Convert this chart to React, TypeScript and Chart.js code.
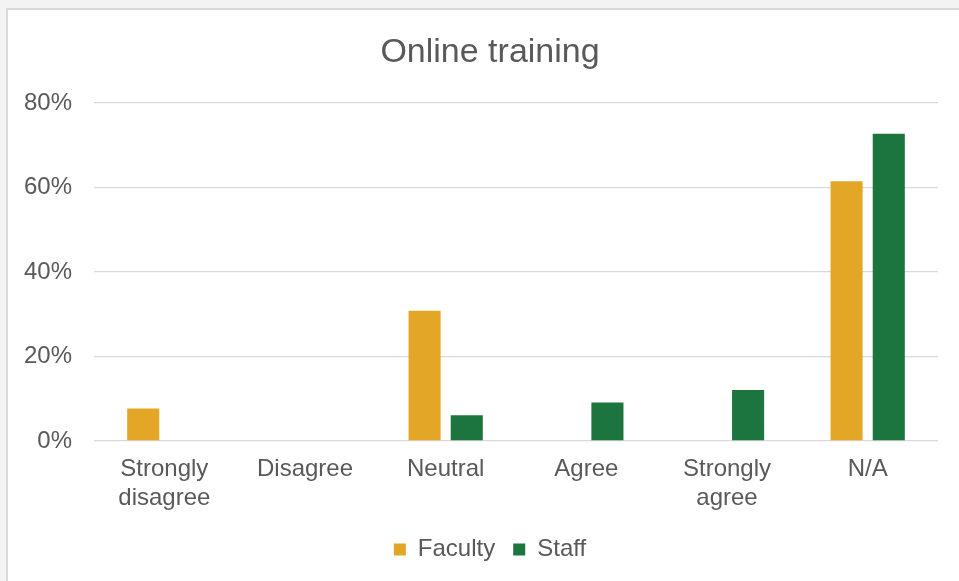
import React, { useEffect, useRef } from "react";
import { Chart, registerables } from "chart.js";

Chart.register(...registerables);

const categories: (string | string[])[] = [
  ["Strongly", "disagree"],
  "Disagree",
  "Neutral",
  "Agree",
  ["Strongly", "agree"],
  "N/A",
];
const facultyValues = [7.7, 0, 30.8, 0, 0, 61.5];
const staffValues = [0, 0, 6.1, 9.1, 12.1, 72.7];
const seriesNames = ["Faculty", "Staff"];
const yTicks = [0, 20, 40, 60, 80];

const FONT = "'Liberation Sans', Arial, sans-serif";
const TEXT = "#595959";

const widenYLabelArea = {
  id: "widenYLabelArea",
  afterLayout(chart: any) {
    if (chart.scales.y) chart.scales.y.left = 0;
  },
};

export default function App() {
  const ref = useRef<HTMLCanvasElement | null>(null);

  useEffect(() => {
    if (!ref.current) return;
    const chart = new Chart(ref.current, {
      type: "bar",
      data: {
        labels: categories,
        datasets: [
          {
            label: seriesNames[0],
            data: facultyValues,
            backgroundColor: "#E3A626",
            borderWidth: 0,
            categoryPercentage: 0.6,
            barPercentage: 0.76,
          },
          {
            label: seriesNames[1],
            data: staffValues,
            backgroundColor: "#1C753E",
            borderWidth: 0,
            categoryPercentage: 0.6,
            barPercentage: 0.76,
          },
        ],
      },
      plugins: [widenYLabelArea],
      options: {
        animation: false,
        responsive: false,
        devicePixelRatio: 1,
        layout: { padding: { left: 42, right: 21, top: 0, bottom: 9.5 } },
        plugins: {
          title: {
            display: true,
            text: "Online training",
            color: TEXT,
            font: { family: FONT, size: 34, weight: "normal" },
            padding: { top: 32, bottom: 30.2 },
          },
          legend: {
            position: "bottom",
            labels: {
              color: TEXT,
              font: { family: FONT, size: 24 },
              boxWidth: 12,
              boxHeight: 12,
              padding: 18,
            },
          },
          tooltip: { enabled: false },
        },
        scales: {
          x: {
            grid: { display: false, drawTicks: false },
            border: { display: false },
            ticks: {
              color: TEXT,
              font: { family: FONT, size: 24 },
              padding: 14,
              maxRotation: 0,
              autoSkip: false,
            },
            afterFit: (scale: any) => {
              scale.height = 78.5;
            },
          },
          y: {
            min: 0,
            max: 80,
            afterBuildTicks: (scale: any) => {
              scale.ticks = yTicks.map((v) => ({ value: v }));
            },
            grid: { color: "#D9D9D9", lineWidth: 1.3, drawTicks: false },
            border: { display: false },
            ticks: {
              color: TEXT,
              font: { family: FONT, size: 24 },
              padding: 22,
              callback: (v: any) => v + "%",
            },
            afterFit: (scale: any) => {
              scale.width = 52;
            },
          },
        },
      },
    });
    return () => chart.destroy();
  }, []);

  return (
    <div
      style={{
        position: "fixed",
        left: 0,
        top: 0,
        width: 959,
        height: 581,
        overflow: "hidden",
        background: "#F3F3F3",
      }}
    >
      <div
        style={{
          position: "absolute",
          left: 6,
          top: 8,
          width: 980,
          height: 600,
          border: "2px solid #D9D9D9",
          background: "#FFFFFF",
        }}
      />
      <canvas
        ref={ref}
        width={959}
        height={581}
        style={{ position: "absolute", left: 0, top: 0, width: 959, height: 581 }}
      />
    </div>
  );
}
